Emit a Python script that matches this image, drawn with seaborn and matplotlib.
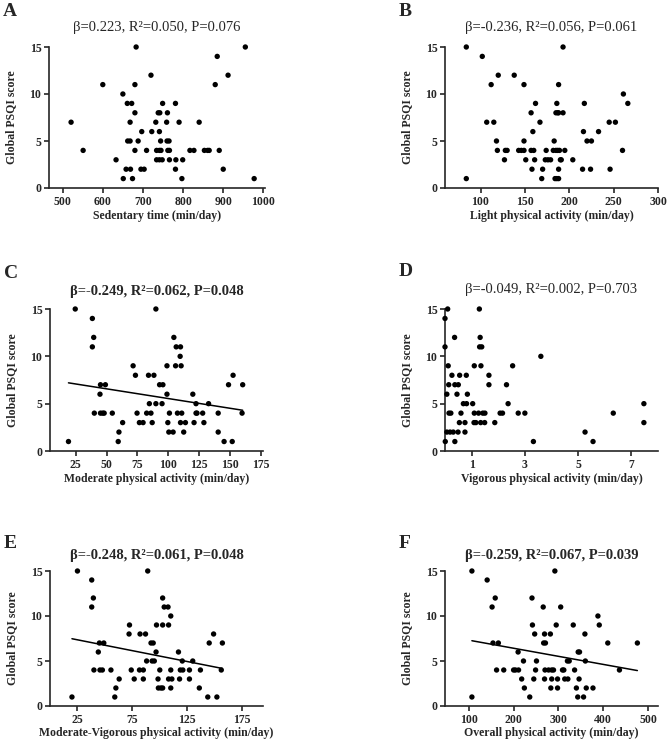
import matplotlib
matplotlib.use("Agg")
import matplotlib.pyplot as plt
import seaborn as sns
import numpy as np
import pandas as pd

# ---------------- data ----------------
# Panel A: Sedentary time
a_x = [683, 955, 885, 720, 912, 600, 680, 880, 650,
       661, 672, 749, 781, 680, 738, 742, 761,
       521, 668, 732, 759, 790, 840, 697, 722, 741,
       662, 668, 688, 744, 760, 765,
       551, 680, 709, 734, 741, 745, 762, 766, 817, 827, 853, 861, 865, 890,
       633, 734, 741, 748, 766, 782, 799,
       658, 669, 695, 703, 781, 900,
       651, 674, 797, 977]
a_y = [15, 15, 14, 12, 12, 11, 11, 11, 10,
       9, 9, 9, 9, 8, 8, 8, 8,
       7, 7, 7, 7, 7, 7, 6, 6, 6,
       5, 5, 5, 5, 5, 5,
       4, 4, 4, 4, 4, 4, 4, 4, 4, 4, 4, 4, 4, 4,
       3, 3, 3, 3, 3, 3, 3,
       2, 2, 2, 2, 2, 2,
       1, 1, 1, 1]

# Panel B: Light physical activity
b_x = [84, 193, 102, 120, 138, 112, 149, 188, 261,
       162, 186, 217, 266, 157, 185, 187, 188, 193,
       107, 115, 167, 245, 252, 159, 216, 233,
       118, 149, 183, 220, 225,
       119, 128, 130, 143, 146, 149, 157, 160, 174, 182, 185, 187, 189, 195, 260,
       127, 151, 161, 173, 176, 179, 190, 191, 204,
       158, 170, 188, 215, 224, 246,
       84, 169, 184, 186, 188]
b_y = [15, 15, 14, 12, 12, 11, 11, 11, 10,
       9, 9, 9, 9, 8, 8, 8, 8, 8,
       7, 7, 7, 7, 7, 6, 6, 6,
       5, 5, 5, 5, 5,
       4, 4, 4, 4, 4, 4, 4, 4, 4, 4, 4, 4, 4, 4, 4,
       3, 3, 3, 3, 3, 3, 3, 3, 3,
       2, 2, 2, 2, 2, 2,
       1, 1, 1, 1, 1]

# Panel C: Moderate physical activity
c_x = [24.5, 90, 38.4, 39.5, 104.6, 38.4, 106.5, 110, 109.7,
       71.5, 99, 106, 110.5, 73.4, 84, 88.4, 152.7,
       45, 49, 93, 95.7, 149, 160.5, 44.6, 99, 120,
       84.7, 90, 95, 122.6, 132.8,
       40, 45, 46.8, 48, 54.6, 74.7, 82.5, 86, 101, 107.5, 111, 122.6, 123.4, 128, 140.6, 160,
       63, 76.6, 79.6, 87, 99.7, 110, 114, 121, 129,
       60, 100.5, 104, 112.6, 140.6,
       19, 59.4, 145.4, 152]
c_y = [15, 15, 14, 12, 12, 11, 11, 11, 10,
       9, 9, 9, 9, 8, 8, 8, 8,
       7, 7, 7, 7, 7, 7, 6, 6, 6,
       5, 5, 5, 5, 5,
       4, 4, 4, 4, 4, 4, 4, 4, 4, 4, 4, 4, 4, 4, 4, 4,
       3, 3, 3, 3, 3, 3, 3, 3, 3,
       2, 2, 2, 2, 2,
       1, 1, 1, 1]

# Panel D: Vigorous physical activity
d_x = [0.1, 1.29, 0.0, 0.36, 1.32, 0.0, 1.3, 1.38, 3.6,
       0.12, 1.1, 1.35, 2.54, 0.26, 0.55, 0.8, 1.65,
       0.14, 0.37, 0.5, 1.65, 2.31, 0.07, 0.45, 0.84,
       0.69, 0.81, 1.04, 2.37, 7.47,
       0.15, 0.22, 0.6, 1.1, 1.26, 1.42, 1.5, 2.07, 2.16, 2.75, 3.0, 6.32,
       0.54, 0.75, 1.09, 1.16, 1.34, 1.49, 1.87, 7.47,
       0.07, 0.19, 0.31, 0.49, 0.75, 5.26,
       0.01, 0.37, 3.32, 5.56]
d_y = [15, 15, 14, 12, 12, 11, 11, 11, 10,
       9, 9, 9, 9, 8, 8, 8, 8,
       7, 7, 7, 7, 7, 6, 6, 6,
       5, 5, 5, 5, 5,
       4, 4, 4, 4, 4, 4, 4, 4, 4, 4, 4, 4,
       3, 3, 3, 3, 3, 3, 3, 3,
       2, 2, 2, 2, 2, 2,
       1, 1, 1, 1]

# Panel E: Moderate-Vigorous physical activity
e_x = [25, 89, 38, 39.5, 102.6, 38, 104, 107.5, 110,
       72.4, 97, 102.6, 108, 72, 82, 87, 149,
       45, 49, 92, 94, 145, 157, 44, 96.6, 117,
       88, 93, 95, 120.5, 130,
       40, 45.5, 47.7, 55.5, 74, 81.5, 85, 100, 110, 118.7, 121, 127, 137, 156,
       63, 76.7, 85, 98.4, 108, 111, 118, 127,
       60, 98.7, 101, 102.6, 110, 136,
       20, 59, 143.7, 152]
e_y = [15, 15, 14, 12, 12, 11, 11, 11, 10,
       9, 9, 9, 9, 8, 8, 8, 8,
       7, 7, 7, 7, 7, 7, 6, 6, 6,
       5, 5, 5, 5, 5,
       4, 4, 4, 4, 4, 4, 4, 4, 4, 4, 4, 4, 4, 4,
       3, 3, 3, 3, 3, 3, 3, 3,
       2, 2, 2, 2, 2, 2,
       1, 1, 1, 1]

# Panel F: Overall physical activity
f_x = [107, 292, 141, 159, 241, 152, 266, 305, 388,
       242, 295, 333, 391, 247, 269, 282, 359,
       154, 166, 267, 271, 410, 476, 210, 344, 347,
       222, 251, 320, 324, 360,
       162, 178, 200, 204, 211, 249, 270, 278, 285, 289, 309, 312, 336, 436,
       218, 245, 269, 285, 298, 314, 321, 346,
       224, 283, 298, 340, 362, 377,
       107, 236, 343, 356]
f_y = [15, 15, 14, 12, 12, 11, 11, 11, 10,
       9, 9, 9, 9, 8, 8, 8, 8,
       7, 7, 7, 7, 7, 7, 6, 6, 6,
       5, 5, 5, 5, 5,
       4, 4, 4, 4, 4, 4, 4, 4, 4, 4, 4, 4, 4, 4,
       3, 3, 3, 3, 3, 3, 3, 3,
       2, 2, 2, 2, 2, 2,
       1, 1, 1, 1]

letters = ["A", "B", "C", "D", "E", "F"]
titles = ["β=0.223, R²=0.050, P=0.076",
          "β=-0.236, R²=0.056, P=0.061",
          "β=-0.249, R²=0.062, P=0.048",
          "β=-0.049, R²=0.002, P=0.703",
          "β=-0.248, R²=0.061, P=0.048",
          "β=-0.259, R²=0.067, P=0.039"]
title_bold = [False, False, True, False, True, True]
xlabels = ["Sedentary time (min/day)",
           "Light physical activity (min/day)",
           "Moderate physical activity (min/day)",
           "Vigorous physical activity (min/day)",
           "Moderate-Vigorous physical activity (min/day)",
           "Overall physical activity (min/day)"]
ylabel = "Global PSQI score"
xticks_list = [[500, 600, 700, 800, 900, 1000],
               [100, 150, 200, 250, 300],
               [25, 50, 75, 100, 125, 150, 175],
               [1, 3, 5, 7],
               [25, 75, 125, 175],
               [100, 200, 300, 400, 500]]
yticks = [0, 5, 10, 15]
show_fit = [False, False, True, False, True, True]

# ---------------- layout ----------------
W, H = 667, 748
sns.set_style("ticks")
plt.rcParams["font.family"] = ["Liberation Serif", "DejaVu Serif"]
plt.rcParams["axes.linewidth"] = 1.2

fig = plt.figure(figsize=(W / 100, H / 100), dpi=100)

# axes boxes in pixels: left, right, top, bottom
boxes = [(49, 265, 47, 188), (445, 658, 47, 188),
         (50, 263, 309, 451), (445, 658, 309, 451),
         (50, 263, 571, 706), (445, 658, 571, 706)]
xlims = [(466, 1004), (60, 300), (4, 177), (0, 8), (0, 194), (47, 522)]
title_y = [28, 28, 291, 289, 555, 555]
letter_y = [12, 12, 273, 272, 543, 543]
xlabel_y = [216, 216, 479, 479, 733, 733]

def fx(px):
    return px / W

def fy(py):
    return 1 - py / H

datasets = [(a_x, a_y), (b_x, b_y), (c_x, c_y), (d_x, d_y), (e_x, e_y), (f_x, f_y)]

for i, (xs, ys) in enumerate(datasets):
    l, r, t, b = boxes[i]
    ax = fig.add_axes([fx(l), fy(b), (r - l) / W, (b - t) / H])
    df = pd.DataFrame({"x": xs, "y": ys})
    sns.scatterplot(data=df, x="x", y="y", ax=ax, color="black", s=15,
                    edgecolor="none", linewidth=0, clip_on=False, zorder=3)
    if show_fit[i]:
        sns.regplot(data=df, x="x", y="y", ax=ax, scatter=False, ci=None,
                    truncate=True, color="black", line_kws={"lw": 1.1})
    ax.set_xlim(*xlims[i])
    ax.set_ylim(0, 15)
    ax.set_xticks(xticks_list[i])
    ax.set_yticks(yticks)
    ax.set_xlabel("")
    ax.set_ylabel("")
    for sp in ["top", "right"]:
        ax.spines[sp].set_visible(False)
    ax.tick_params(direction="out", length=3.5, width=1.2, pad=2,
                   labelsize=8.5)
    for lab in ax.get_xticklabels() + ax.get_yticklabels():
        lab.set_fontweight("bold")
    cx = (l + r) / 2
    fig.text(fx(cx), fy(title_y[i]), titles[i], ha="center", va="center",
             fontsize=10.5, fontweight="bold" if title_bold[i] else "normal")
    fig.text(fx(l - 46), fy(letter_y[i]), letters[i], ha="left", va="center",
             fontsize=14, fontweight="bold")
    fig.text(fx(cx), fy(xlabel_y[i]), xlabels[i], ha="center", va="center",
             fontsize=8.5, fontweight="bold")
    fig.text(fx(l - 38), fy((t + b) / 2), ylabel, ha="center", va="center",
             rotation=90, fontsize=8.5, fontweight="bold")

fig.savefig("out.png", dpi=100)
